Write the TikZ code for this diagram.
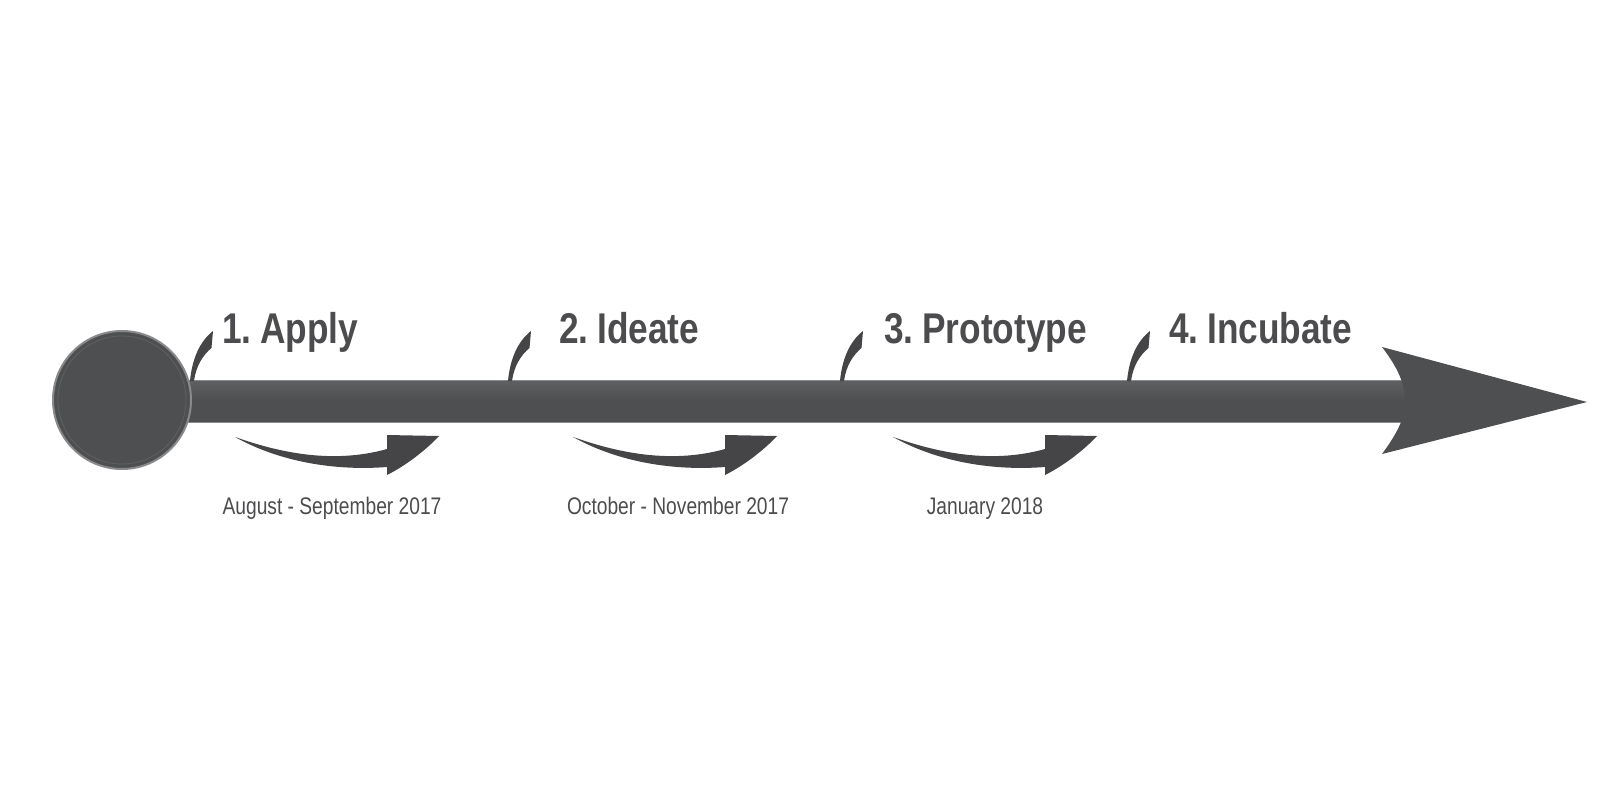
\documentclass[tikz,border=0pt]{standalone}
\usepackage{fontspec}
\setmainfont{Liberation Sans}
\newfontfamily\titlefont[FakeStretch=0.80]{Liberation Sans}
\newfontfamily\headfont[FakeStretch=0.82, WordSpace=0.55]{Liberation Sans}
\usetikzlibrary{shadings}
\definecolor{bardark}{HTML}{4E4F51}
\definecolor{barlight}{HTML}{5F6062}
\definecolor{rim}{HTML}{8A8A8C}
\definecolor{inkgray}{HTML}{4C4C4E}
\definecolor{swoosh}{HTML}{454547}
\tikzset{
  titletext/.style={anchor=base west, inner sep=0pt, text=inkgray, font=\headfont\bfseries\fontsize{43}{43}\selectfont},
  datetext/.style={anchor=base, inner sep=0pt, text=inkgray, font=\titlefont\fontsize{24}{24}\selectfont},
  hookshape/.style={fill=swoosh, draw=none},
  swooshshape/.style={fill=swoosh, draw=none},
}
\begin{document}
\begin{tikzpicture}[x=1pt,y=-1pt]
\useasboundingbox (0,0) rectangle (1600,800);
% main bar
\shade[top color=barlight, bottom color=bardark, middle color=bardark, draw=rim, line width=0.8pt] (170,380) rectangle (1410,422);
% arrow head
\fill[bardark] (1382,347) -- (1587,402) -- (1382,454) .. controls (1398,432) and (1405,418) .. (1405,401) .. controls (1405,384) and (1398,368) .. (1382,347) -- cycle;
% start circle
\node (start) [circle, minimum size=138pt, inner sep=0pt, draw=rim, line width=2pt, fill=bardark] at (122,400) {};
\draw[color=barlight, line width=0.8pt] (122,400) circle (64);
% hooks
\foreach \bx in {190,508,840,1127}{
  \fill[hookshape] (\bx,381) .. controls (\bx+2,360) and (\bx+9,342) .. (\bx+23,331) -- (\bx+21.5,348) .. controls (\bx+13,355) and (\bx+6,366) .. (\bx+4,381) -- cycle;
}
% swooshes
\foreach \tx in {235,573,893}{
  \fill[swooshshape] (\tx,437) .. controls (\tx+40,451) and (\tx+95,465) .. (\tx+152,449)
     -- (\tx+152,435) -- (\tx+204,436) .. controls (\tx+192,449) and (\tx+172,465) .. (\tx+152,475)
     -- (\tx+152,467) .. controls (\tx+100,471) and (\tx+45,462) .. (\tx,437) -- cycle;
}
% titles
\node (t1) [titletext] at (222,343) {1. Apply};
\node (t2) [titletext] at (559,343) {2. Ideate};
\node (t3) [titletext] at (884,343) {3. Prototype};
\node (t4) [titletext] at (1169,343) {4. Incubate};
% dates
\node (d1) [datetext] at (332,514) {August - September 2017};
\node (d2) [datetext] at (678,514) {October - November 2017};
\node (d3) [datetext] at (985,514) {January 2018};
\end{tikzpicture}
\end{document}
